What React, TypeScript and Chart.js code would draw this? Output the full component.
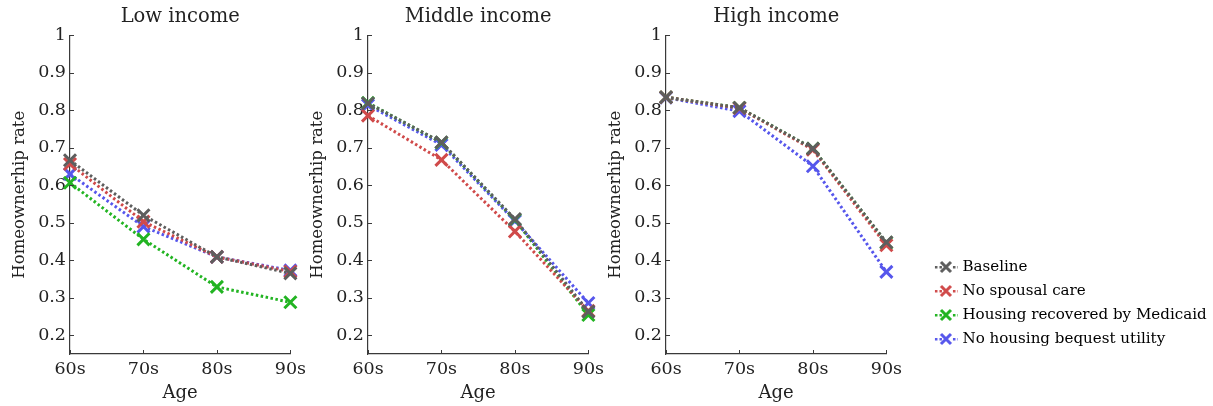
import React, { useEffect, useRef } from "react";
import { Chart, registerables } from "chart.js";

Chart.register(...registerables);

const ageLabels = ["60s", "70s", "80s", "90s"];
const yTickValues = [0.2, 0.3, 0.4, 0.5, 0.6, 0.7, 0.8, 0.9, 1];
const panelTitles = ["Low income", "Middle income", "High income"];
const seriesNames = [
  "Baseline",
  "No spousal care",
  "Housing recovered by Medicaid",
  "No housing bequest utility",
];
const seriesColors = ["#5e5e5e", "#d04a4a", "#22b422", "#5656ec"];

// Low income
const lowBaseline = [0.667, 0.52, 0.409, 0.365];
const lowNoSpousal = [0.657, 0.503, 0.409, 0.37];
const lowMedicaid = [0.607, 0.456, 0.329, 0.288];
const lowNoBequest = [0.63, 0.49, 0.409, 0.373];

// Middle income
const midBaseline = [0.819, 0.715, 0.51, 0.263];
const midNoSpousal = [0.786, 0.668, 0.477, 0.265];
const midMedicaid = [0.82, 0.714, 0.508, 0.254];
const midNoBequest = [0.814, 0.708, 0.505, 0.286];

// High income
const highBaseline = [0.835, 0.807, 0.698, 0.448];
const highNoSpousal = [0.835, 0.806, 0.695, 0.44];
const highMedicaid = [0.835, 0.807, 0.698, 0.447];
const highNoBequest = [0.834, 0.798, 0.651, 0.369];

const panelData = [
  [lowBaseline, lowNoSpousal, lowMedicaid, lowNoBequest],
  [midBaseline, midNoSpousal, midMedicaid, midNoBequest],
  [highBaseline, highNoSpousal, highMedicaid, highNoBequest],
];

const FONT = "'DejaVu Serif', serif";
const AXIS_COLOR = "#3a3a3a";
const TEXT_COLOR = "#222222";

const innerTicks = {
  id: "innerTicks",
  afterDraw(chart: any) {
    const { ctx, chartArea } = chart;
    const ys = chart.scales.y;
    const xs = chart.scales.x;
    if (!ys || !xs || !ys.options.display) return;
    ctx.save();
    ctx.strokeStyle = AXIS_COLOR;
    ctx.lineWidth = 1;
    ys.ticks.forEach((t: any) => {
      const p = Math.round(ys.getPixelForValue(t.value)) + 0.5;
      ctx.beginPath();
      ctx.moveTo(chartArea.left, p);
      ctx.lineTo(chartArea.left + 4, p);
      ctx.stroke();
    });
    xs.ticks.forEach((t: any, i: number) => {
      const p = Math.round(xs.getPixelForTick(i)) + 0.5;
      ctx.beginPath();
      ctx.moveTo(p, chartArea.bottom);
      ctx.lineTo(p, chartArea.bottom - 4);
      ctx.stroke();
    });
    ctx.restore();
  },
};

function makeLegendSymbol(color: string) {
  const c = document.createElement("canvas");
  c.width = 24;
  c.height = 16;
  const g = c.getContext("2d")!;
  g.fillStyle = color;
  for (let x = 1; x < 24; x += 4.5) {
    if (x > 6 && x < 17) continue;
    g.fillRect(x, 7, 2.5, 2.5);
  }
  g.strokeStyle = color;
  g.lineWidth = 3;
  g.beginPath();
  g.moveTo(7, 3);
  g.lineTo(17, 13);
  g.moveTo(17, 3);
  g.lineTo(7, 13);
  g.stroke();
  return c;
}

const PANEL_W = 313;

function Panel({ idx, left }: { idx: number; left: number }) {
  const ref = useRef<HTMLCanvasElement>(null);
  useEffect(() => {
    const datasets = panelData[idx].map((vals, i) => ({
      label: seriesNames[i],
      data: vals,
      borderColor: seriesColors[i],
      backgroundColor: seriesColors[i],
      borderWidth: 3,
      borderDash: [2.5, 2.5],
      pointStyle: "crossRot",
      pointRadius: 8.5,
      pointBorderWidth: 3,
      pointBorderColor: seriesColors[i],
      fill: false,
      tension: 0,
    }));
    const chart = new Chart(ref.current!, {
      type: "line",
      data: { labels: ageLabels, datasets },
      plugins: [innerTicks],
      options: {
        animation: false,
        responsive: false,
        maintainAspectRatio: false,
        layout: { padding: { left: 0, right: 16, top: 0, bottom: 0 } },
        plugins: {
          legend: { display: false },
          tooltip: { enabled: false },
          title: {
            display: true,
            text: panelTitles[idx],
            fullSize: false,
            color: TEXT_COLOR,
            font: { family: FONT, size: 19.5, weight: "normal" },
            padding: { top: 5, bottom: 7 },
          },
        },
        scales: {
          x: {
            type: "category",
            offset: false,
            grid: { display: false, drawTicks: false },
            border: { display: true, color: AXIS_COLOR, width: 1.2 },
            ticks: {
              color: TEXT_COLOR,
              font: { family: FONT, size: 17.5, lineHeight: 1.0 },
              padding: 7,
              maxRotation: 0,
              autoSkip: false,
            },
            title: {
              display: true,
              text: "Age",
              color: TEXT_COLOR,
              font: { family: FONT, size: 18, lineHeight: 1 },
              padding: { top: -1.5, bottom: 4 },
            },
          },
          y: {
            min: 0.15,
            max: 1,
            grid: { display: false, drawTicks: false },
            border: { display: true, color: AXIS_COLOR, width: 1.2 },
            afterBuildTicks: (scale: any) => {
              scale.ticks = yTickValues.map((v) => ({ value: v }));
            },
            afterFit: (scale: any) => {
              scale.width = 70;
            },
            ticks: {
              color: TEXT_COLOR,
              font: { family: FONT, size: 17.5 },
              padding: 4,
              callback: (v: any) => String(Number(v)),
            },
            title: {
              display: true,
              text: "Homeownerhip rate",
              color: TEXT_COLOR,
              font: { family: FONT, size: 16.5 },
              padding: { top: 10, bottom: 0 },
            },
          },
        },
      } as any,
    });
    return () => chart.destroy();
  }, [idx]);
  return (
    <div style={{ position: "absolute", left, top: 0, width: PANEL_W, height: 406 }}>
      <canvas ref={ref} width={PANEL_W} height={406} style={{ width: PANEL_W, height: 406 }} />
    </div>
  );
}

function LegendBox({ left }: { left: number }) {
  const ref = useRef<HTMLCanvasElement>(null);
  useEffect(() => {
    const symbols = seriesColors.map((c) => makeLegendSymbol(c));
    const chart = new Chart(ref.current!, {
      type: "line",
      data: {
        labels: [],
        datasets: seriesNames.map((n, i) => ({
          label: n,
          data: [],
          borderColor: seriesColors[i],
          backgroundColor: seriesColors[i],
        })),
      },
      options: {
        animation: false,
        responsive: false,
        maintainAspectRatio: false,
        layout: { padding: { top: 250.5, left: 0, right: 0, bottom: 0 } },
        scales: { x: { display: false }, y: { display: false } },
        plugins: {
          tooltip: { enabled: false },
          legend: {
            display: true,
            position: "left",
            align: "start",
            labels: {
              usePointStyle: true,
              pointStyleWidth: 18,
              color: TEXT_COLOR,
              font: { family: FONT, size: 15.1 },
              padding: 8.9,
              generateLabels: () =>
                seriesNames.map((n, i) => ({
                  text: n,
                  pointStyle: symbols[i],
                  fillStyle: seriesColors[i],
                  strokeStyle: seriesColors[i],
                  lineWidth: 0,
                  hidden: false,
                  datasetIndex: i,
                })),
            },
          },
        },
      } as any,
    });
    return () => chart.destroy();
  }, []);
  return (
    <div style={{ position: "absolute", left, top: 0, width: 1213 - left, height: 406, overflow: "hidden" }}>
      <canvas ref={ref} width={640} height={406} style={{ width: 640, height: 406 }} />
    </div>
  );
}

export default function App() {
  return (
    <div style={{ position: "absolute", left: 0, top: 0, width: 1213, height: 406, background: "#fff", overflow: "hidden" }}>
      <Panel idx={0} left={0} />
      <Panel idx={1} left={298} />
      <Panel idx={2} left={596} />
      <LegendBox left={928} />
    </div>
  );
}
